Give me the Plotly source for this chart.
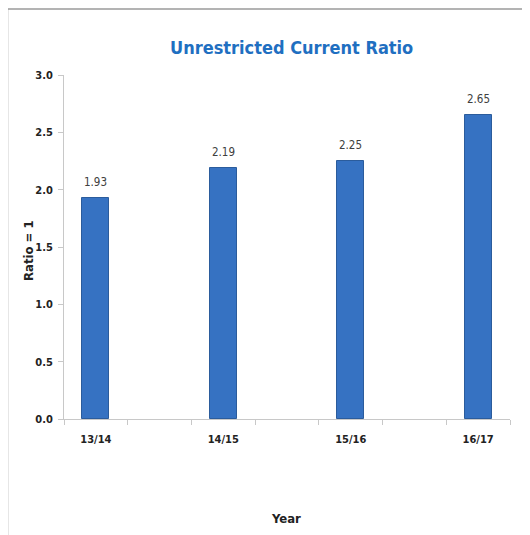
import plotly.graph_objects as go

years = ["13/14", "14/15", "15/16", "16/17"]
ratios = [1.93, 2.19, 2.25, 2.65]
y_ticks = [0.0, 0.5, 1.0, 1.5, 2.0, 2.5, 3.0]

# each year occupies every other slot of a 7-slot axis
slots = [2 * i + 0.5 for i in range(len(years))]

OFF = 8  # page body margin
W, H = 530 - OFF, 535 - OFF
# target page-pixel positions of plot area
PL, PR, PT, PB = 64, 510, 75, 419
L, T = PL - OFF, PT - OFF
R = W - (PR - OFF)
B = H - (PB - OFF)
pw, ph = PR - PL, PB - PT

def px(x):  # page pixel -> paper
    return (x - PL) / pw

def py(y):
    return (PB - y) / ph

font_main = "DejaVu Sans Condensed, Liberation Sans Narrow, Roboto, sans-serif"

fig = go.Figure()
fig.add_trace(go.Bar(
    x=slots, y=ratios, width=0.42,
    marker=dict(color="#3672C2", line=dict(color="#2B5C9C", width=1)),
    hoverinfo="x+y",
))

value_labels = [
    dict(text=f"{v:.2f}", x=s, y=v, xref="x", yref="y", yshift=16,
         xanchor="center", yanchor="middle", showarrow=False,
         font=dict(family=font_main, size=11.5, color="#404040"))
    for s, v in zip(slots, ratios)
]

fig.update_layout(
    width=W, height=H,
    margin=dict(l=L, r=R, t=T, b=B),
    paper_bgcolor="white", plot_bgcolor="white",
    showlegend=False,
    bargap=0,
    xaxis=dict(
        range=[0, 2 * len(years) - 1],
        tickmode="array", tickvals=slots, ticktext=years,
        ticks="", showgrid=False, zeroline=False,
        showline=True, linecolor="#C8C8C8", linewidth=1,
        ticklabelstandoff=10,
        tickfont=dict(family=font_main, size=11, color="#222222", weight="bold"),
        minor=dict(tickmode="linear", tick0=0, dtick=1, ticks="outside",
                   ticklen=5, tickcolor="#C8C8C8", showgrid=False),
        fixedrange=True,
    ),
    yaxis=dict(
        range=[0, 3], tickmode="array", tickvals=y_ticks,
        ticktext=[f"{v:.1f}" for v in y_ticks],
        ticks="outside", ticklen=5, tickcolor="#C8C8C8",
        showgrid=False, zeroline=False,
        showline=True, linecolor="#C8C8C8", linewidth=1,
        ticklabelstandoff=3,
        tickfont=dict(family=font_main, size=11, color="#222222", weight="bold"),
    ),
    shapes=[dict(type="rect", xref="paper", yref="paper",
                 x0=px(7.5), x1=px(600), y0=py(600), y1=py(9),
                 line=dict(color="#9A9A9A", width=1.5), fillcolor="rgba(0,0,0,0)",
                 layer="below")],
    annotations=value_labels + [
        dict(text="Unrestricted Current Ratio", xref="paper", yref="paper",
             x=px(291), y=py(47), xanchor="center", yanchor="middle", showarrow=False,
             font=dict(family=font_main, size=18, color="#1F6FC1", weight="bold")),
        dict(text="Ratio = 1", xref="paper", yref="paper",
             x=px(28), y=py(251), xanchor="center", yanchor="middle", showarrow=False,
             textangle=-90,
             font=dict(family=font_main, size=13, color="#222222", weight="bold")),
        dict(text="Year", xref="paper", yref="paper",
             x=px(286), y=py(518), xanchor="center", yanchor="middle", showarrow=False,
             font=dict(family=font_main, size=13, color="#222222", weight="bold")),
    ],
)

fig.write_html("out.html")
